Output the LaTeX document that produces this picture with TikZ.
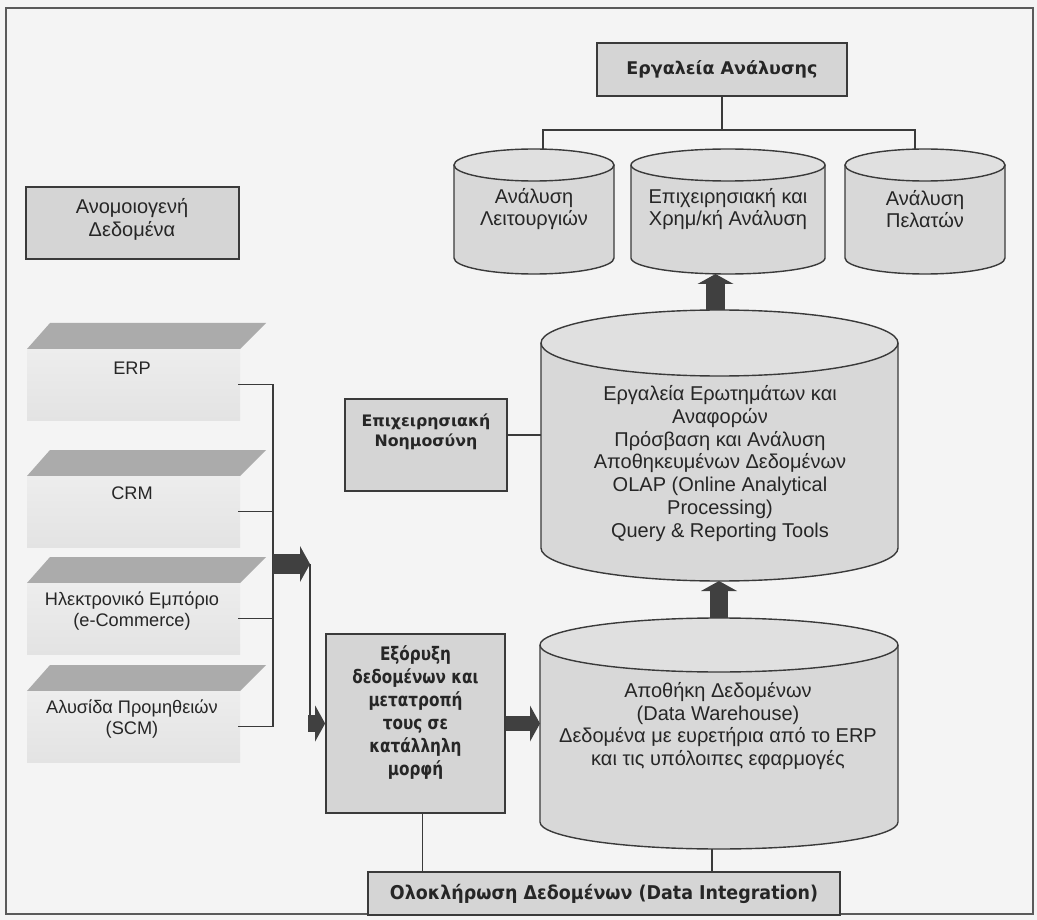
\documentclass[tikz,border=0pt]{standalone}
\usepackage{fontspec}
\setmainfont{Liberation Sans}
\newfontfamily\widebold{DejaVu Sans}
\newfontfamily\slimbold{DejaVu Sans}[FakeStretch=0.82]
\newfontfamily\midbold{DejaVu Sans}[FakeStretch=0.92]
\usetikzlibrary{arrows.meta}

\definecolor{paper}{HTML}{F4F4F4}
\definecolor{boxfill}{HTML}{D5D5D5}
\definecolor{cylfill}{HTML}{D8D8D8}
\definecolor{cyltop}{HTML}{E0E0E0}
\definecolor{edge}{HTML}{3A3A3A}
\definecolor{frameline}{HTML}{5A5A5A}
\definecolor{arrowfill}{HTML}{404040}
\definecolor{slabtop}{HTML}{ABABAB}
\definecolor{slabface}{HTML}{EDEDED}
\definecolor{slabfacelow}{HTML}{E3E3E3}
\definecolor{ink}{HTML}{262626}

% A drum (upright cylinder): name, left x, right x,
% centre y of the top ellipse, centre y of the bottom ellipse, half height of the ellipses
\newcommand\drum[6]{%
  \pgfmathsetmacro\drumrx{(#3-#2)/2}%
  \pgfmathsetmacro\drumcx{(#3+#2)/2}%
  \fill[cylfill] (#2,-#4) -- (#2,-#5)
    arc[start angle=180,end angle=360,x radius=\drumrx,y radius=#6] -- (#3,-#4) -- cycle;
  \fill[cyltop] (\drumcx,-#4) ellipse[x radius=\drumrx,y radius=#6];
  \draw[drumline] (#2,-#4) -- (#2,-#5)
    arc[start angle=180,end angle=360,x radius=\drumrx,y radius=#6] -- (#3,-#4);
  \draw[drumline] (\drumcx,-#4) ellipse[x radius=\drumrx,y radius=#6];
  \coordinate (#1-top) at (\drumcx,{-#4+#6});
  \coordinate (#1-bottom) at (\drumcx,{-#5-#6});
  \coordinate (#1-west) at (#2,{-(#4+#5)/2});
}

% A flat slab of the source systems: name, y of its upper edge
\newcommand\slab[2]{%
  \fill[slabtop] (27,{-#2-26}) -- (240,{-#2-26}) -- (266,-#2) -- (50,-#2) -- cycle;
  \shade[top color=slabface,bottom color=slabfacelow] (27,{-#2-26}) rectangle (240,{-#2-97});
  \coordinate (#1-port) at (238,{-#2-61.5});
}

\begin{document}
\begin{tikzpicture}[x=1pt,y=1pt,
  every node/.style={text=ink},
  graybox/.style={draw=edge,line width=1.7pt,fill=boxfill,inner sep=0pt},
  txt/.style={align=center,font=\fontsize{20}{22.8}\selectfont},
  slabtxt/.style={align=center,font=\fontsize{18.2}{20.5}\selectfont},
  boldtxt/.style={align=center,font=\widebold\bfseries\fontsize{17.5}{21}\selectfont},
  drumline/.style={draw=edge,line width=1.4pt},
  wire/.style={draw=edge,line width=1.4pt},
  fatarrow/.style={draw=arrowfill,line width=#1,
    -{Triangle[length=10pt,width=36pt,line width=0pt]}},
]
\fill[paper] (0,0) rectangle (1037,-920);
\useasboundingbox (0,0) rectangle (1037,-920);
\draw[frameline,line width=1.3pt] (6,-8) rectangle (1033,-914);

% analysis tools on top
\node[graybox,minimum width=250pt,minimum height=53pt,boldtxt] (tools) at (722,-69.5) {Εργαλεία Ανάλυσης};

\drum{ops}{454}{614}{165}{258}{16}
\drum{fin}{631}{825}{165}{258}{16}
\drum{cust}{845}{1005}{165}{258}{16}
\node[txt] (ops-text) at (534,-209) {Ανάλυση\\Λειτουργιών};
\node[txt] (fin-text) at (728,-209) {Επιχειρησιακή και\\Χρημ/κή Ανάλυση};
\node[txt] (cust-text) at (925,-209) {Ανάλυση\\Πελατών};

\coordinate (fork) at (722,-130);
\draw[wire] (tools.south) -- (fork);
\draw[wire] ([xshift=9pt]ops-top) |- (fork) -| ([xshift=-10pt]cust-top);

% business intelligence store
\drum{olap}{541}{898}{343}{548}{33}
\node[txt] (olap-text) at (720,-463.5) {Εργαλεία Ερωτημάτων και\\Αναφορών\\Πρόσβαση και Ανάλυση\\Αποθηκευμένων Δεδομένων\\OLAP (Online Analytical\\Processing)\\Query \& Reporting Tools};

\node[graybox,minimum width=162pt,minimum height=92pt] (bi) at (426,-445) {};
\node[boldtxt,font=\widebold\bfseries\fontsize{15.8}{20}\selectfont] (bi-text) at (426,-432) {Επιχειρησιακή\\Νοημοσύνη};
\draw[wire] ([yshift=10pt]bi.east) -- ([yshift=10pt]bi.east -| olap-west);

% data warehouse
\drum{dw}{540}{898}{645}{822}{27}
\node[txt] (dw-text) at (718,-726) {Αποθήκη Δεδομένων\\(Data Warehouse)\\Δεδομένα με ευρετήρια από το ERP\\και τις υπόλοιπες εφαρμογές};

\draw[fatarrow=19pt] ([xshift=-4pt]olap-top) -- ([xshift=-4pt]olap-top |- fin-bottom);
\draw[fatarrow=18pt] (dw-top) -- (dw-top |- olap-bottom);

% heterogeneous sources
\node[graybox,minimum width=213pt,minimum height=72pt] (hetero) at (132.5,-223) {};
\node[txt] (hetero-text) at (132,-219) {Ανομοιογενή\\Δεδομένα};

\slab{erp}{323}
\slab{crm}{450}
\slab{ecom}{557}
\slab{scm}{665}
\node[slabtxt] (erp-text) at (132,-368) {ERP};
\node[slabtxt] (crm-text) at (132,-493) {CRM};
\node[slabtxt] (ecom-text) at (132,-611) {Ηλεκτρονικό Εμπόριο\\(e-Commerce)};
\node[slabtxt] (scm-text) at (132,-719) {Αλυσίδα Προμηθειών\\(SCM)};

\coordinate (bus) at (273,-564);
\coordinate (relay) at (310,-564);
\draw[wire] (erp-port) -- (erp-port -| bus) -- (scm-port -| bus) -- (scm-port);
\draw[wire] (crm-port) -- (crm-port -| bus);
\draw[wire] (ecom-port) -- (ecom-port -| bus);
\draw[fatarrow=20pt] (bus) -- (relay);

% extraction and transformation
\node[graybox,minimum width=179pt,minimum height=179pt] (extract) at (415.5,-723.5) {};
\node[boldtxt,font=\slimbold\bfseries\fontsize{18.6}{23}\selectfont] (extract-text) at (415.5,-712.5) {Εξόρυξη\\δεδομένων και\\μετατροπή\\τους σε\\κατάλληλη\\μορφή};
\draw[wire] (relay) -- (relay |- extract.west);
\draw[fatarrow=17pt] ([xshift=-2pt]relay |- extract.west) -- (extract.west);
\draw[fatarrow=15pt] (extract.east) -- (extract.east -| dw-west);

% data integration
\node[graybox,minimum width=472pt,minimum height=43pt,boldtxt,font=\midbold\bfseries\fontsize{19}{22}\selectfont] (integ) at (604,-893.5) {Ολοκλήρωση Δεδομένων (Data Integration)};
\draw[wire] ([xshift=7pt]extract.south) -- ([xshift=7pt]extract.south |- integ.north);
\draw[wire] ([xshift=-7pt]dw-bottom) -- ([xshift=-7pt]dw-bottom |- integ.north);
\end{tikzpicture}
\end{document}
